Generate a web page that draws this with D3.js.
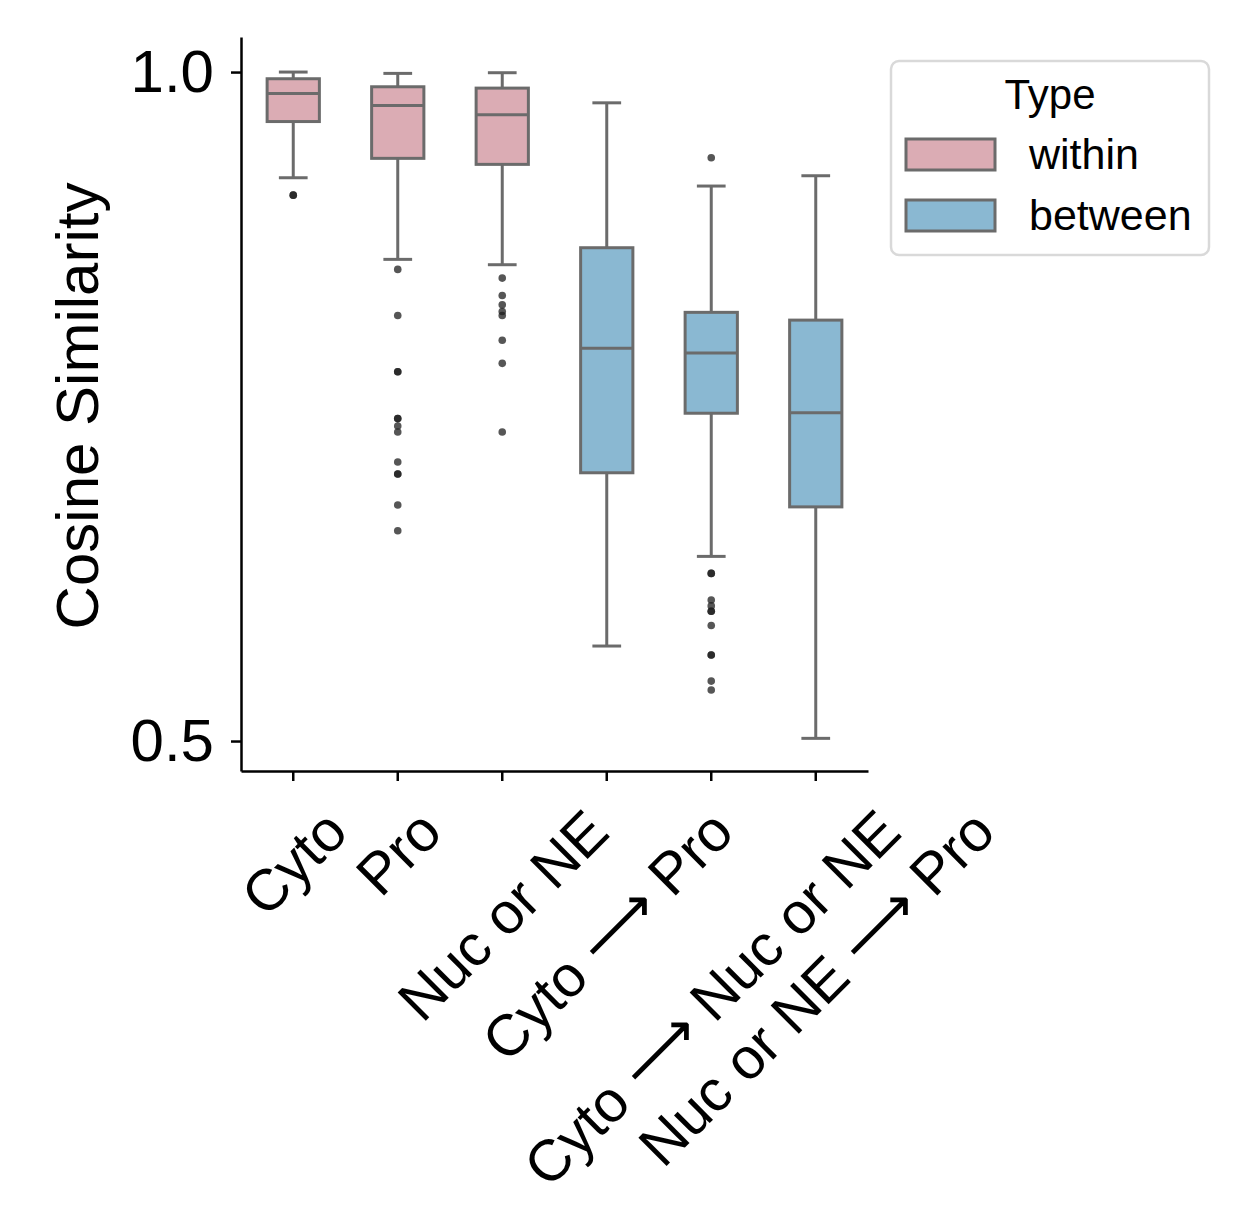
<!DOCTYPE html>
<html>
<head>
<meta charset="utf-8">
<script src="https://cdn.jsdelivr.net/npm/d3@7"></script>
<style>
  body { margin: 0; background: #fff; }
  text { font-family: "Liberation Sans", Arial, sans-serif; fill: #000; }
</style>
</head>
<body>
<div id="chart-area"></div>
<script>
// categories and their hue group
const categories = ["Cyto", "Pro", "Nuc or NE", "Cyto \u27F6 Pro", "Cyto \u27F6 Nuc or NE", "Nuc or NE \u27F6 Pro"];
const types = ["within", "within", "within", "between", "between", "between"];

// box summaries
const whiskerLow  = [0.921, 0.860, 0.856, 0.571, 0.638, 0.502];
const q1          = [0.963, 0.9355, 0.931, 0.7005, 0.745, 0.675];
const median      = [0.984, 0.975, 0.968, 0.7935, 0.790, 0.7454];
const q3          = [0.995, 0.989, 0.988, 0.8687, 0.8204, 0.8146];
const whiskerHigh = [1.000, 0.999, 0.9995, 0.977, 0.9148, 0.9225];

const outliers = [
    [0.908, 0.908],
    [0.8525, 0.818, 0.776, 0.776, 0.741, 0.741, 0.7355, 0.731, 0.7085, 0.6996, 0.6996, 0.6764, 0.6572],
    [0.846, 0.833, 0.826, 0.821, 0.818, 0.7995, 0.7823, 0.731],
    [],
    [0.936, 0.6253, 0.6253, 0.6054, 0.601, 0.597, 0.597, 0.5864, 0.5643, 0.5643, 0.5448, 0.5381],
    []
];

const yTicks = [0.5, 1.0];
const legendTypes = ["within", "between"];

const color = d3.scaleOrdinal().domain(legendTypes).range(["#dbacb4", "#8ab8d2"]);
const edge = "#6b6b6b";

const width = 1240, height = 1214;
const svg = d3.select("#chart-area").append("svg")
    .attr("width", width)
    .attr("height", height);

const plot = {left: 241, right: 868, top: 37, bottom: 771};

const y = d3.scaleLinear()
    .domain([0.4776, 1.0262])
    .range([plot.bottom, plot.top]);

const x = d3.scaleBand()
    .domain(categories)
    .range([plot.left, plot.right])
    .padding(0);

const boxW = x.bandwidth() * 0.5;
const capW = boxW * 0.55;

// boxes
const data = categories.map((c, i) => ({
    cat: c, type: types[i],
    lo: whiskerLow[i], q1: q1[i], med: median[i], q3: q3[i], hi: whiskerHigh[i],
    out: outliers[i]
}));

const g = svg.append("g");
const box = g.selectAll(".box")
    .data(data)
    .enter().append("g")
    .attr("class", "box")
    .attr("transform", d => "translate(" + (x(d.cat) + x.bandwidth() / 2) + ",0)");

// whiskers
box.append("line")
    .attr("x1", 0).attr("x2", 0)
    .attr("y1", d => y(d.hi)).attr("y2", d => y(d.q3))
    .attr("stroke", edge).attr("stroke-width", 3);
box.append("line")
    .attr("x1", 0).attr("x2", 0)
    .attr("y1", d => y(d.q1)).attr("y2", d => y(d.lo))
    .attr("stroke", edge).attr("stroke-width", 3);
// caps
box.append("line")
    .attr("x1", -capW / 2).attr("x2", capW / 2)
    .attr("y1", d => y(d.hi)).attr("y2", d => y(d.hi))
    .attr("stroke", edge).attr("stroke-width", 3);
box.append("line")
    .attr("x1", -capW / 2).attr("x2", capW / 2)
    .attr("y1", d => y(d.lo)).attr("y2", d => y(d.lo))
    .attr("stroke", edge).attr("stroke-width", 3);
// box
box.append("rect")
    .attr("x", -boxW / 2)
    .attr("width", boxW)
    .attr("y", d => y(d.q3))
    .attr("height", d => y(d.q1) - y(d.q3))
    .attr("fill", d => color(d.type))
    .attr("stroke", edge).attr("stroke-width", 3);
// median
box.append("line")
    .attr("x1", -boxW / 2).attr("x2", boxW / 2)
    .attr("y1", d => y(d.med)).attr("y2", d => y(d.med))
    .attr("stroke", edge).attr("stroke-width", 3);
// fliers
box.selectAll(".flier")
    .data(d => d.out)
    .enter().append("circle")
    .attr("class", "flier")
    .attr("cx", 0)
    .attr("cy", v => y(v))
    .attr("r", 3.8)
    .attr("fill", "#1e1e1e")
    .attr("fill-opacity", 0.75);

// axes
const yAxis = svg.append("g")
    .attr("transform", "translate(" + plot.left + ",0)")
    .call(d3.axisLeft(y).tickValues(yTicks).tickFormat(d3.format(".1f")).tickSize(10).tickSizeOuter(0).tickPadding(17));
yAxis.selectAll("text")
    .style("font-size", "60px");

const xAxis = svg.append("g")
    .attr("transform", "translate(0," + plot.bottom + ")")
    .call(d3.axisBottom(x).tickSize(10).tickSizeOuter(0));
xAxis.selectAll("text").remove();

[yAxis, xAxis].forEach(a => {
    a.select(".domain").attr("stroke", "#000").attr("stroke-width", 2.5);
    a.selectAll(".tick line").attr("stroke", "#000").attr("stroke-width", 2.5);
});

// rotated x labels, bounding box centred under each tick
const xFont = 58;
const labelTop = 797;
categories.forEach(c => {
    const t = svg.append("text")
        .attr("text-anchor", "middle")
        .attr("dominant-baseline", "central")
        .style("font-size", xFont + "px");
    c.split(/(\u27F6)/).forEach(part => {
        const ts = t.append("tspan").text(part);
        if (part === "\u27F6") {
            ts.style("font-family", "'DejaVu Sans ExtraLight', 'DejaVu Sans', sans-serif")
              .style("font-weight", 200);
        }
    });
    const L = t.node().getComputedTextLength();
    const h = xFont * 1.12;
    const cx = x(c) + x.bandwidth() / 2;
    const cy = labelTop + (L + h) / Math.SQRT2 / 2;
    t.attr("transform", "translate(" + cx + "," + cy + ") rotate(-45)");
});

// y label
svg.append("text")
    .attr("transform", "translate(98,406) rotate(-90)")
    .attr("text-anchor", "middle")
    .style("font-size", "60px")
    .text("Cosine Similarity");

// legend
const legend = svg.append("g");
legend.append("rect")
    .attr("x", 891).attr("y", 61)
    .attr("width", 318).attr("height", 194)
    .attr("rx", 8)
    .attr("fill", "#fff")
    .attr("stroke", "#d9d9d9")
    .attr("stroke-width", 2.5);
legend.append("text")
    .attr("x", 1050).attr("y", 109)
    .attr("text-anchor", "middle")
    .style("font-size", "42px")
    .text("Type");
const items = legend.selectAll(".legend-item")
    .data(legendTypes)
    .enter().append("g")
    .attr("class", "legend-item")
    .attr("transform", (d, i) => "translate(0," + (i * 61) + ")");
items.append("rect")
    .attr("x", 906).attr("y", 139)
    .attr("width", 89).attr("height", 31)
    .attr("fill", d => color(d))
    .attr("stroke", edge).attr("stroke-width", 3);
items.append("text")
    .attr("x", 1029).attr("y", 169)
    .style("font-size", "43px")
    .text(d => d);
</script>
</body>
</html>
